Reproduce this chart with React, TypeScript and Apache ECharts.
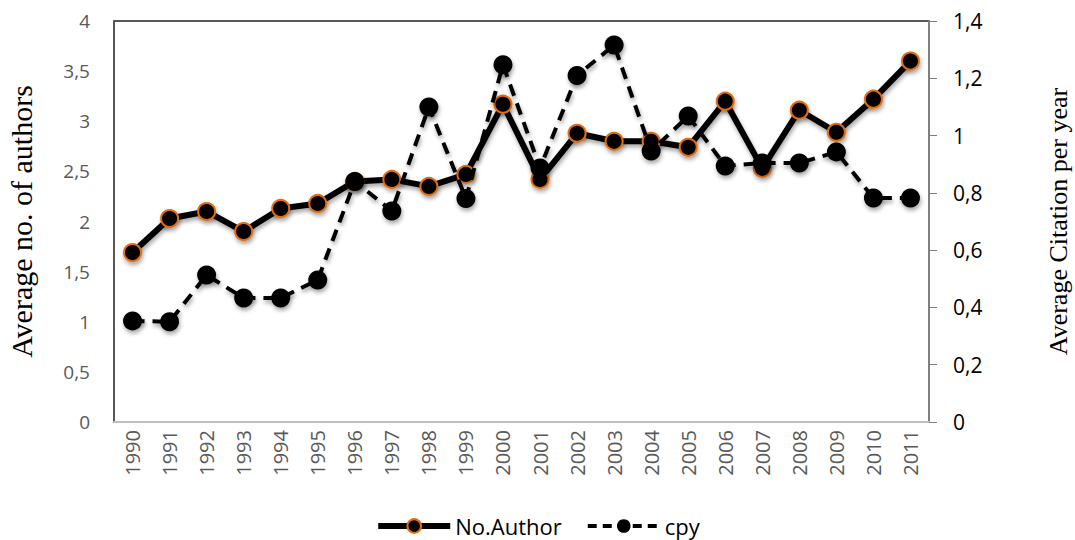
import React, { useEffect, useRef } from "react";
import * as echarts from "echarts";

const years = ["1990","1991","1992","1993","1994","1995","1996","1997","1998","1999","2000","2001","2002","2003","2004","2005","2006","2007","2008","2009","2010","2011"];
const noAuthor = [1.69, 2.03, 2.10, 1.90, 2.13, 2.18, 2.40, 2.42, 2.35, 2.47, 3.17, 2.42, 2.88, 2.80, 2.80, 2.74, 3.20, 2.53, 3.11, 2.89, 3.22, 3.60];
const cpy = [0.353, 0.35, 0.513, 0.433, 0.433, 0.496, 0.84, 0.737, 1.10, 0.78, 1.247, 0.887, 1.21, 1.316, 0.946, 1.068, 0.894, 0.904, 0.904, 0.943, 0.782, 0.782];

const comma = (v: number) => String(v).replace(".", ",");

export default function App() {
  const ref = useRef<HTMLDivElement>(null);
  useEffect(() => {
    if (!ref.current) return;
    const chart = echarts.init(ref.current, null, { renderer: "svg" });
    const shadow = { shadowColor: "rgba(0,0,0,0.35)", shadowBlur: 4, shadowOffsetX: 1, shadowOffsetY: 3 };
    const sans = "Open Sans, Liberation Sans, sans-serif";
    const serif = "Liberation Serif, Times New Roman, serif";
    chart.setOption({
      animation: false,
      backgroundColor: "#fff",
      grid: {
        left: 114, right: 146, top: 21, bottom: 118,
        show: true, borderColor: "#222", borderWidth: 1.5,
        outerBoundsMode: "none", containLabel: false,
      },
      legend: {
        top: 514,
        left: "center",
        padding: 0,
        itemWidth: 72,
        itemHeight: 17,
        itemGap: 24,
        textStyle: { fontFamily: sans, fontSize: 22, color: "#000", lineHeight: 24 },
        data: [
          { name: "No.Author", lineStyle: { width: 6, color: "#000" } },
          { name: "cpy", lineStyle: { width: 4, color: "#000", type: [9, 6] } },
        ],
      },
      xAxis: {
        type: "category",
        data: years,
        boundaryGap: true,
        axisLine: { show: true, lineStyle: { color: "#bfbfbf", width: 2 } },
        axisTick: { show: false },
        axisLabel: { rotate: 90, color: "#595959", fontSize: 20, fontFamily: sans, margin: 8 },
      },
      yAxis: [
        {
          type: "value",
          min: 0,
          max: 4,
          interval: 0.5,
          name: "Average no. of authors",
          nameLocation: "middle",
          nameRotate: 90,
          nameGap: 78,
          nameTextStyle: { fontFamily: serif, fontSize: 30, color: "#000" },
          splitLine: { show: false },
          axisLine: { show: true, lineStyle: { color: "#595959", width: 1.5 } },
          axisTick: { show: false },
          axisLabel: { color: "#595959", fontSize: 19, fontFamily: sans, margin: 24, formatter: comma },
        },
        {
          type: "value",
          min: 0,
          max: 1.4,
          interval: 0.2,
          position: "right",
          name: "Average Citation per year",
          nameLocation: "middle",
          nameRotate: 90,
          nameGap: 116,
          nameTextStyle: { fontFamily: serif, fontSize: 26, color: "#000" },
          splitLine: { show: false },
          axisLine: { show: true, lineStyle: { color: "#808080", width: 2 } },
          axisTick: { show: true, inside: false, length: 8, lineStyle: { color: "#808080", width: 1 } },
          axisLabel: { color: "#000", fontSize: 21, fontFamily: sans, margin: 24, formatter: comma },
        },
      ],
      series: [
        {
          name: "No.Author",
          type: "line",
          yAxisIndex: 0,
          data: noAuthor,
          symbol: "circle",
          symbolSize: 17,
          lineStyle: { color: "#000", width: 6, ...shadow },
          itemStyle: { color: "#000", borderColor: "#E46C0A", borderWidth: 2, ...shadow },
          z: 2,
        },
        {
          name: "cpy",
          type: "line",
          yAxisIndex: 1,
          data: cpy,
          symbol: "circle",
          symbolSize: 19,
          lineStyle: { color: "#000", width: 4, type: [12, 8], ...shadow },
          itemStyle: { color: "#000", borderColor: "#000", borderWidth: 0, ...shadow },
          z: 3,
        },
      ],
    });
    return () => chart.dispose();
  }, []);
  return <div ref={ref} style={{ width: 1075, height: 540, position: "absolute", left: 0, top: 0 }} />;
}
